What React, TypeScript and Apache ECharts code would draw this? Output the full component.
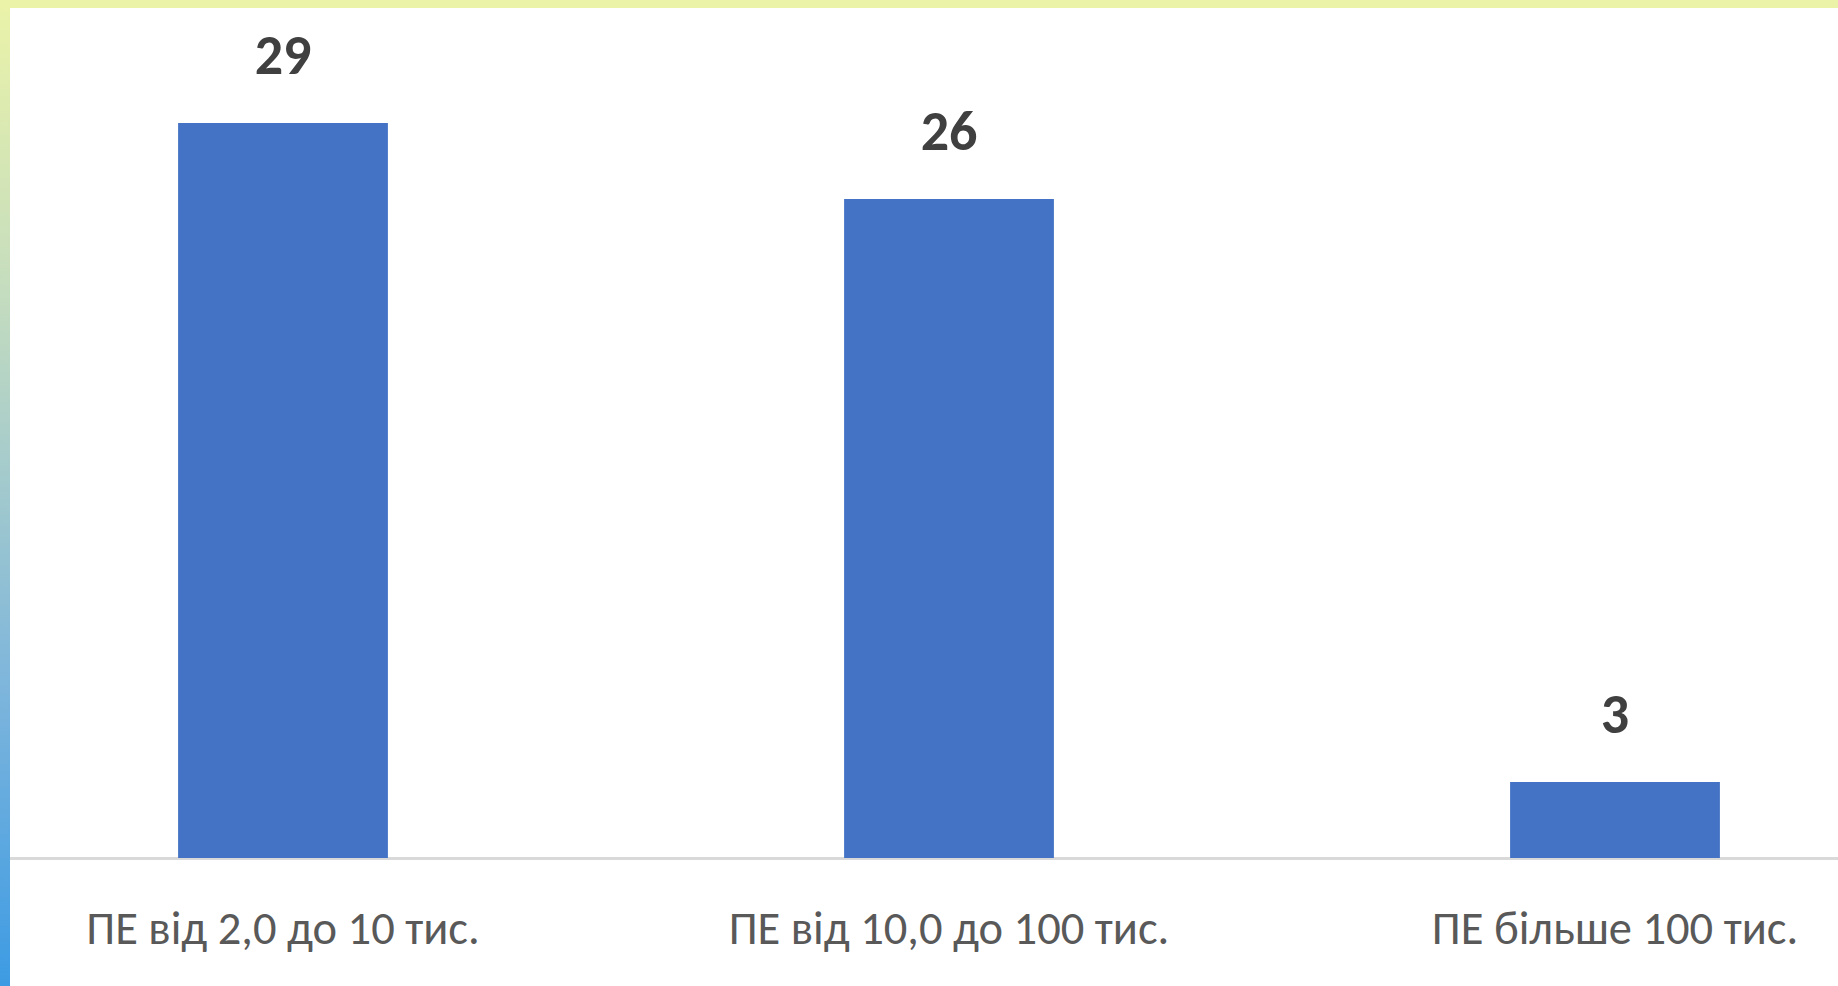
import React, { useEffect, useRef } from "react";
import * as echarts from "echarts";

const categories = ["ПЕ від 2,0 до 10 тис.", "ПЕ від 10,0 до 100 тис.", "ПЕ більше 100 тис."];
const values = [29, 26, 3];

const OFFSET = 50;

export default function App() {
  const ref = useRef<HTMLDivElement>(null);
  useEffect(() => {
    if (!ref.current) return;
    const chart = echarts.init(ref.current, null, { renderer: "svg" });
    chart.setOption({
      animation: false,
      backgroundColor: "#ffffff",
      grid: { left: 0, right: 0, top: 47, height: 811, containLabel: false },
      xAxis: {
        type: "category",
        data: categories,
        axisLine: { show: true, lineStyle: { color: "#D9D9D9", width: 3 } },
        axisTick: { show: false },
        axisLabel: {
          color: "#595959",
          fontSize: 46.5,
          fontFamily: "Carlito, 'Noto Sans', sans-serif",
          margin: 46,
        },
      },
      yAxis: {
        type: "value",
        min: 0,
        max: 32,
        show: false,
        splitLine: { show: false },
      },
      series: [
        {
          type: "bar",
          data: values,
          barCategoryGap: "68.5%",
          itemStyle: { color: "#4472C4" },
          label: {
            show: true,
            position: "top",
            distance: 40,
            color: "#404040",
            fontSize: 56,
            fontWeight: "bold",
            fontFamily: "Carlito, 'Noto Sans', sans-serif",
          },
        },
      ],
      graphic: [
        {
          type: "rect",
          shape: { x: OFFSET, y: 0, width: 1838, height: 8 },
          style: { fill: "#EBF3A8" },
          z: 100,
        },
        {
          type: "rect",
          shape: { x: OFFSET, y: 0, width: 10, height: 986 },
          style: {
            fill: new echarts.graphic.LinearGradient(0, 0, 0, 1, [
              { offset: 0, color: "#EBF3A8" },
              { offset: 0.3, color: "#C4DCBF" },
              { offset: 0.7, color: "#7DB5DC" },
              { offset: 1, color: "#3D9BE3" },
            ]),
          },
          z: 100,
        },
      ],
    });
    return () => chart.dispose();
  }, []);
  return (
    <div style={{ position: "fixed", left: 0, top: 0, width: 1838, height: 986, overflow: "hidden" }}>
      <div
        ref={ref}
        style={{ position: "absolute", left: -OFFSET, top: 0, width: 1998, height: 986 }}
      />
    </div>
  );
}
